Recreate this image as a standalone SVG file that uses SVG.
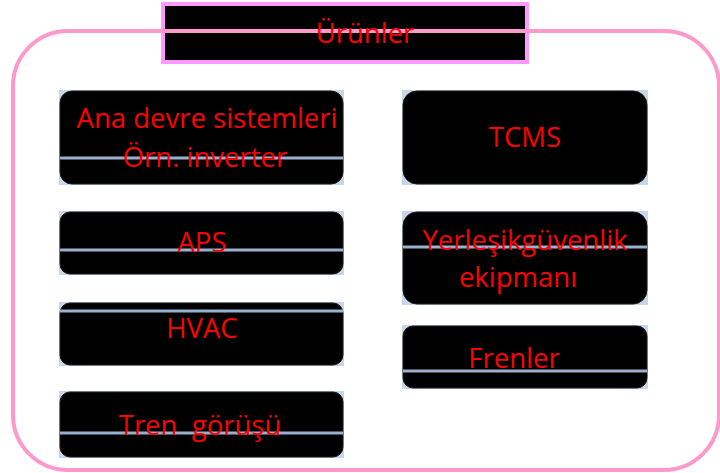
<svg xmlns="http://www.w3.org/2000/svg" width="720" height="473" viewBox="0 0 720 473">
<style>
.bg{fill:#C9D6EA}
.box{fill:#000000;stroke:#1a1a1a;stroke-width:1}
.bl{stroke:#9BB0CF;stroke-width:3}
.t{font-family:"Open Sans","Liberation Sans",sans-serif;font-size:27.5px;fill:#FF0000;text-anchor:middle}
</style>
<rect width="720" height="473" fill="#FFFFFF"/>
<g id="title">
<rect x="163" y="4" width="364" height="58" fill="#000000" stroke="#FF99FF" stroke-width="4"/>
</g>
<g id="frame">
<rect x="13" y="31" width="706" height="439" rx="55" ry="55" fill="none" stroke="#FF99CC" stroke-width="4"/>
</g>
<text class="t" x="365" y="43">Ürünler</text>
<g id="n-ana">
<rect class="bg" x="59" y="90" width="285" height="95"/>
<rect class="box" x="60" y="91" width="283" height="93" rx="12"/>
<line class="bl" x1="60" y1="158" x2="343" y2="158"/>
<text class="t" x="207" y="128">Ana devre sistemleri</text>
<text class="t" x="205" y="167">Örn. inverter</text>
</g>
<g id="n-tcms">
<rect class="bg" x="402" y="90" width="246" height="95"/>
<rect class="box" x="403" y="91" width="244" height="93" rx="14"/>
<text class="t" x="525" y="147">TCMS</text>
</g>
<g id="n-aps">
<rect class="bg" x="59" y="211" width="285" height="64"/>
<rect class="box" x="60" y="212" width="283" height="62" rx="10"/>
<line class="bl" x1="60" y1="250" x2="343" y2="250"/>
<text class="t" x="202" y="252">APS</text>
</g>
<g id="n-yer">
<rect class="bg" x="402" y="211" width="246" height="94"/>
<rect class="box" x="403" y="212" width="244" height="92" rx="14"/>
<line class="bl" x1="403" y1="247" x2="647" y2="247"/>
<text class="t" x="525" y="250">Yerleşikgüvenlik</text>
<text class="t" x="518" y="287">ekipmanı</text>
</g>
<g id="n-hvac">
<rect class="bg" x="59" y="302" width="285" height="64"/>
<rect class="box" x="60" y="303" width="283" height="62" rx="10"/>
<line class="bl" x1="60" y1="311" x2="343" y2="311"/>
<text class="t" x="202" y="338">HVAC</text>
</g>
<g id="n-fren">
<rect class="bg" x="402" y="325" width="246" height="64"/>
<rect class="box" x="403" y="326" width="244" height="62" rx="10"/>
<line class="bl" x1="403" y1="371" x2="647" y2="371"/>
<text class="t" x="514" y="368">Frenler</text>
</g>
<g id="n-tren">
<rect class="bg" x="59" y="391" width="285" height="67"/>
<rect class="box" x="60" y="392" width="283" height="65" rx="10"/>
<line class="bl" x1="60" y1="433" x2="343" y2="433"/>
<text class="t" x="200" y="435" xml:space="preserve">Tren  görüşü</text>
</g>
<g id="connectors"></g>
</svg>
